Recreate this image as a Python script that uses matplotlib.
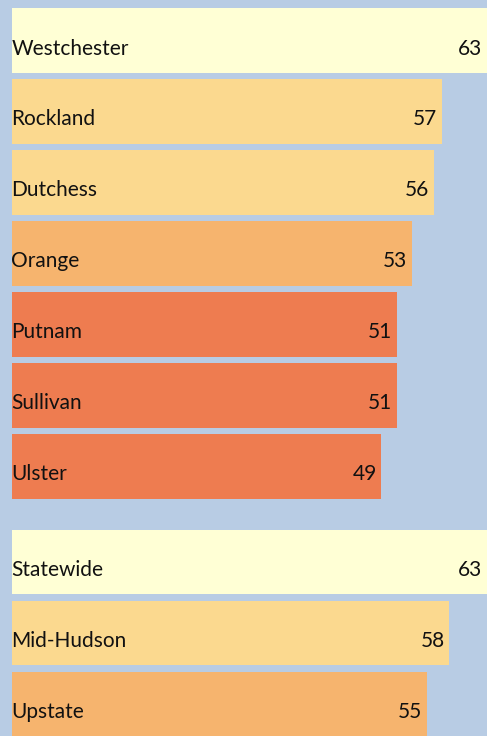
import matplotlib
matplotlib.use("Agg")
import matplotlib.pyplot as plt

# Counties in the region, then the comparison groups
counties = ["Westchester", "Rockland", "Dutchess", "Orange", "Putnam", "Sullivan", "Ulster"]
county_values = [63, 57, 56, 53, 51, 51, 49]
groups = ["Statewide", "Mid-Hudson", "Upstate"]
group_values = [63, 58, 55]

county_colors = ["#FFFFD5", "#FBD98F", "#FBD98F", "#F6B46E", "#EE7C50", "#EE7C50", "#EE7C50"]
group_colors = ["#FFFFD5", "#FBD98F", "#F6B46E"]

BG = "#B8CCE4"

fig = plt.figure(figsize=(4.87, 7.36), dpi=100, facecolor=BG)
ax = fig.add_axes([0, 0, 1, 1])
ax.set_facecolor(BG)

labels = counties + groups
values = county_values + group_values
colors = county_colors + group_colors

# Row positions: one slot per bar, with a wider break between the two blocks
gap = 0.35
ypos = list(range(len(counties))) + [len(counties) + gap + i for i in range(len(groups))]

bar_h = 0.91
ax.barh(ypos, values, height=bar_h, color=colors, linewidth=0)

font = dict(family=["Lato", "DejaVu Sans"], fontsize=15, color="#111111")
for y, lab, v in zip(ypos, labels, values):
    ax.annotate(lab, xy=(0, y), xytext=(-0.5, -5.8), textcoords="offset points",
                ha="left", va="center", **font)
    ax.annotate(str(v), xy=(v, y), xytext=(-3.5, -5.8), textcoords="offset points",
                ha="right", va="center", **font)

ax.set_xlim(-1.6, 63)
ax.set_ylim(ypos[-1] + 0.45, -0.57)
ax.axis("off")

fig.savefig("out.png", dpi=100, facecolor=BG)
